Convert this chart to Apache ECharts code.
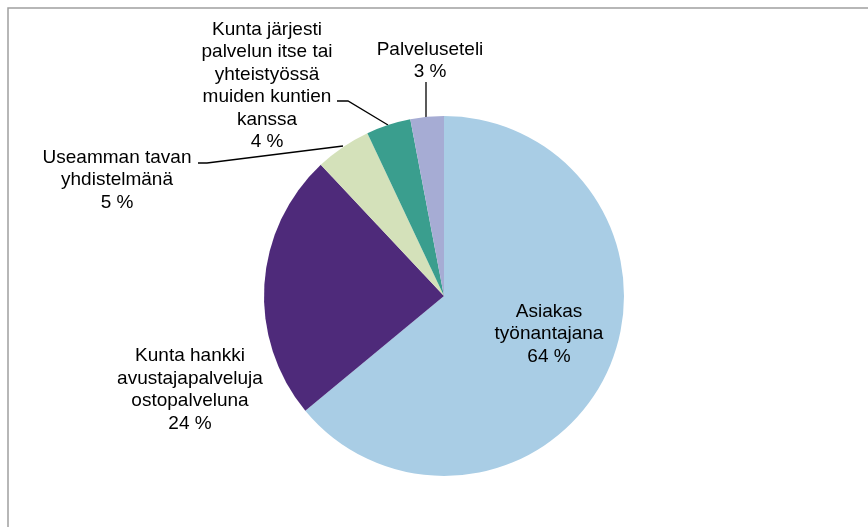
<!DOCTYPE html>
<html>
<head>
<meta charset="utf-8">
<script src="https://cdn.jsdelivr.net/npm/echarts@6/dist/echarts.min.js"></script>
<style>
  html, body { margin: 0; padding: 0; background: #fff; }
  #chart { width: 868px; height: 527px; }
</style>
</head>
<body>
<div id="chart"></div>
<script>
// slices clockwise from 12 o'clock
const names = [
  'Asiakas\ntyönantajana',
  'Kunta hankki\navustajapalveluja\nostopalveluna',
  'Useamman tavan\nyhdistelmänä',
  'Kunta järjesti\npalvelun itse tai\nyhteistyössä\nmuiden kuntien\nkanssa',
  'Palveluseteli'
]
const values = [64, 24, 5, 4, 3]
const colors = ['#a9cde5', '#4e2a7a', '#d4e1ba', '#3a9e8e', '#a6acd4']

// label placement (block centre) and leader lines, per slice
const labelPos = [
  { x: 549, y: 334 },
  { x: 190, y: 390 },
  { x: 117, y: 180 },
  { x: 267, y: 86 },
  { x: 430, y: 61 }
]
const leaders = [
  null,
  null,
  [[198, 163], [207, 163], [343, 146]],
  [[337, 101], [348, 101], [388, 125]],
  [[426, 82], [426, 82], [426, 117]]
]

const chart = echarts.init(document.getElementById('chart'))
const option = {
  animation: false,
  backgroundColor: '#fff',
  graphic: [{
    type: 'rect',
    shape: { x: 8, y: 8, width: 880, height: 540 },
    style: { fill: 'none', stroke: '#a0a0a0', lineWidth: 1.5 },
    silent: true
  }],
  series: [{
    type: 'pie',
    center: [444, 296],
    radius: 180,
    startAngle: 90,
    clockwise: true,
    avoidLabelOverlap: false,
    itemStyle: { borderWidth: 0 },
    label: {
      show: true,
      position: 'outside',
      color: '#000',
      fontFamily: 'Liberation Sans, Arial, sans-serif',
      fontSize: 19,
      lineHeight: 22.5,
      align: 'center',
      formatter: p => p.name + '\n' + p.value + ' %'
    },
    labelLine: {
      show: true,
      lineStyle: { color: '#000', width: 1.3 }
    },
    labelLayout: p => {
      const i = p.dataIndex
      const res = {
        x: labelPos[i].x,
        y: labelPos[i].y,
        align: 'center',
        verticalAlign: 'middle'
      }
      if (leaders[i]) res.labelLinePoints = leaders[i]
      return res
    },
    data: values.map((v, i) => ({
      name: names[i],
      value: v,
      itemStyle: { color: colors[i] },
      label: i === 0 ? { position: 'inside' } : {},
      labelLine: { show: !!leaders[i] }
    }))
  }]
}
chart.setOption(option)
</script>
</body>
</html>
